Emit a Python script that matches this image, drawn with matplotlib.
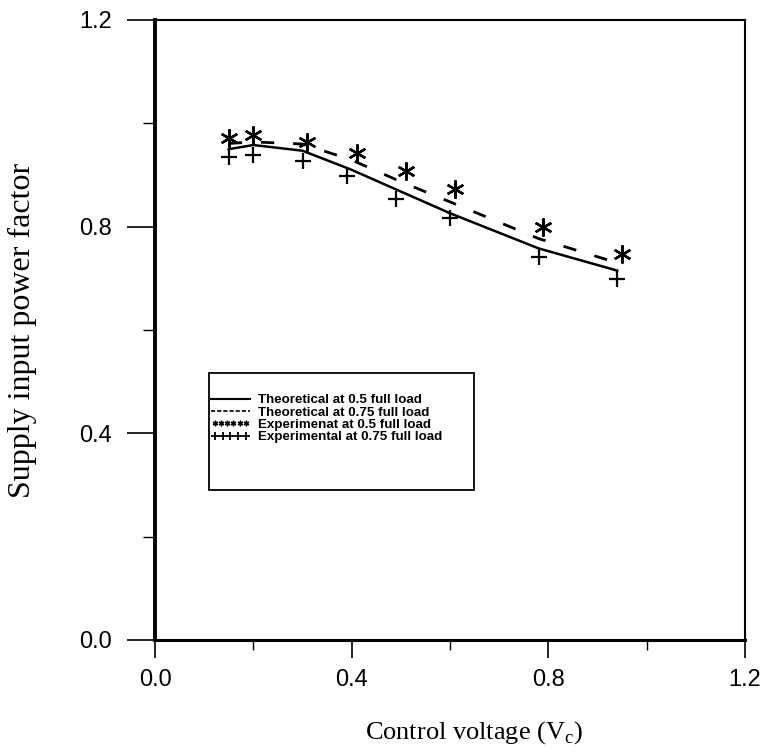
import matplotlib
matplotlib.use("Agg")
import matplotlib.pyplot as plt
from matplotlib.ticker import MultipleLocator
from matplotlib.patches import Rectangle
from matplotlib.lines import Line2D
from matplotlib.legend_handler import HandlerLine2D

# Data
x_theory = [0.15, 0.20, 0.30, 0.40, 0.50, 0.60, 0.78, 0.94]
pf_theory_05 = [0.950, 0.958, 0.947, 0.910, 0.868, 0.826, 0.758, 0.715]
pf_theory_075 = [0.961, 0.964, 0.960, 0.929, 0.887, 0.848, 0.777, 0.730]

x_exp_05 = [0.15, 0.20, 0.31, 0.41, 0.51, 0.61, 0.79, 0.95]
pf_exp_05 = [0.971, 0.977, 0.964, 0.942, 0.908, 0.873, 0.799, 0.747]

x_exp_075 = [0.15, 0.20, 0.30, 0.39, 0.49, 0.60, 0.78, 0.94]
pf_exp_075 = [0.934, 0.939, 0.928, 0.898, 0.853, 0.816, 0.742, 0.698]

labels = ["Theoretical at 0.5 full load",
          "Theoretical at 0.75 full load",
          "Experimenat at 0.5 full load",
          "Experimental at 0.75 full load"]

x_ticks = [0.0, 0.4, 0.8, 1.2]
y_ticks = [0.0, 0.4, 0.8, 1.2]

fig = plt.figure(figsize=(7.61, 7.54), dpi=100)
ax = fig.add_axes([155 / 761, (754 - 640) / 754, 590 / 761, 620 / 754])

ax.plot(x_theory, pf_theory_05, color="black", lw=1.8, ls="-")
ax.plot(x_theory, pf_theory_075, color="black", lw=2.0, ls=(0, (4.8, 6.8)))
ax.plot(x_exp_05, pf_exp_05, ls="none", marker=(6, 2, 0), ms=13,
        mec="black", mew=1.7)
ax.plot(x_exp_075, pf_exp_075, ls="none", marker="+", ms=11,
        mec="black", mew=1.6)

ax.set_xlim(0, 1.2)
ax.set_ylim(0, 1.2)
ax.set_xticks(x_ticks)
ax.set_yticks(y_ticks)
ax.set_xticklabels([f"{v:.1f}" for v in x_ticks])
ax.set_yticklabels([f"{v:.1f}" for v in y_ticks])
ax.xaxis.set_minor_locator(MultipleLocator(0.2))
ax.yaxis.set_minor_locator(MultipleLocator(0.2))
ax.tick_params(axis="x", which="major", direction="out", length=13, width=1.2,
               pad=8, labelsize=17, top=False)
ax.tick_params(axis="y", which="major", direction="out", length=20, width=1.2,
               pad=11, labelsize=17, right=False)
ax.tick_params(axis="x", which="minor", direction="out", length=7, width=1.0,
               top=False)
ax.tick_params(axis="y", which="minor", direction="out", length=9, width=1.0,
               right=False)
for lab in ax.get_xticklabels() + ax.get_yticklabels():
    lab.set_family("Liberation Sans")

ax.spines["left"].set_linewidth(2.8)
ax.spines["bottom"].set_linewidth(2.2)
ax.spines["top"].set_linewidth(1.5)
ax.spines["right"].set_linewidth(1.5)

ax.set_xlabel("Control voltage (V$_\\mathregular{c}$)", family="Liberation Serif",
              fontsize=19)
ax.set_ylabel("Supply input power factor", family="Liberation Serif",
              fontsize=23)
ax.xaxis.set_label_coords(0.54, -0.128)
ax.yaxis.set_label_coords(-0.2, 0.5)

# legend frame
ax.add_patch(Rectangle((0.0915, 0.242), 0.449, 0.1886, transform=ax.transAxes,
                       fill=False, edgecolor="black", lw=1.3, zorder=4))

h1 = Line2D([], [], color="black", lw=1.5, ls="-")
h2 = Line2D([], [], color="black", lw=1.2, ls=(0, (2.5, 1.2)))
h3 = Line2D([], [], color="black", ls="none", marker=(6, 2, 0), ms=4, mew=1.0)
h4 = Line2D([], [], color="black", ls="none", marker="+", ms=6, mew=1.3)
leg = ax.legend([h1, h2, h3, h4], labels, loc="upper left",
                bbox_to_anchor=(0.095, 0.397),
                handler_map={h3: HandlerLine2D(numpoints=6),
                             h4: HandlerLine2D(numpoints=5)},
                handlelength=2.9, handletextpad=0.6, borderpad=0.0,
                borderaxespad=0.0, labelspacing=0.0, frameon=False,
                prop={"family": "Liberation Sans", "size": 9.6, "weight": "bold"})

fig.savefig("out.png", dpi=100)
